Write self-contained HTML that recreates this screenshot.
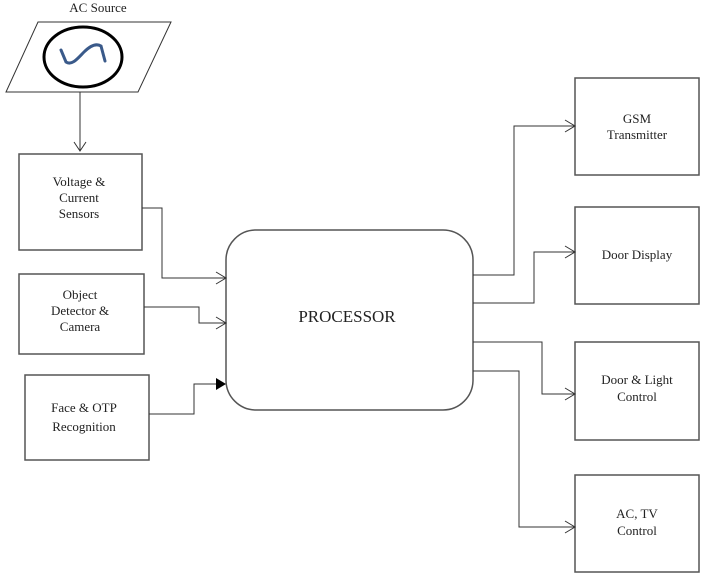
<!DOCTYPE html>
<html><head><style>body{margin:0;background:#fff}svg text{font-family:"Liberation Serif",serif;fill:#222}</style></head><body>
<svg width="705" height="577" viewBox="0 0 705 577" xmlns="http://www.w3.org/2000/svg">
<g fill="none" stroke="#333" stroke-width="1">
<polygon points="38,22 171,22 138,92 6,92"/>
<path d="M80,92 V151 M74,142 L80,151 L86,142"/>
<rect x="19" y="154" width="123" height="96" stroke="#555" stroke-width="1.5"/>
<rect x="19" y="274" width="125" height="80" stroke="#555" stroke-width="1.5"/>
<rect x="25" y="375" width="124" height="85" stroke="#555" stroke-width="1.5"/>
<rect x="226" y="230" width="247" height="180" rx="30" stroke="#555" stroke-width="1.5"/>
<rect x="575" y="78" width="124" height="97" stroke="#555" stroke-width="1.5"/>
<rect x="575" y="207" width="124" height="97" stroke="#555" stroke-width="1.5"/>
<rect x="575" y="342" width="124" height="98" stroke="#555" stroke-width="1.5"/>
<rect x="575" y="475" width="124" height="97" stroke="#555" stroke-width="1.5"/>
<path d="M142,208 H162 V278 H226 M216,272 L226,278 L216,284"/>
<path d="M144,307 H199 V323 H226 M216,317 L226,323 L216,329"/>
<path d="M149,414 H194 V384 H216"/>
<path d="M473,275 H514 V126 H575 M565,120 L575,126 L565,132"/>
<path d="M473,303 H534 V252 H575 M565,246 L575,252 L565,258"/>
<path d="M473,342 H542 V394 H575 M565,388 L575,394 L565,400"/>
<path d="M473,371 H519 V527 H575 M565,521 L575,527 L565,533"/>
</g>
<polygon points="216,378 226,384 216,390" fill="#000"/>
<ellipse cx="83" cy="57" rx="39" ry="30" fill="none" stroke="#000" stroke-width="3"/>
<path d="M61,50 L66,62 C72,66 78,58 84,52 C90,46 96,43 101,46 L105,61" fill="none" stroke="#3a5a8a" stroke-width="3" stroke-linecap="round"/>
<g font-size="13" text-anchor="middle">
<text x="98" y="12">AC Source</text>
<text x="79" y="186">Voltage &amp;</text><text x="79" y="202">Current</text><text x="79" y="218">Sensors</text>
<text x="80" y="299">Object</text><text x="80" y="315">Detector &amp;</text><text x="80" y="331">Camera</text>
<text x="84" y="412">Face &amp; OTP</text><text x="84" y="431">Recognition</text>
<text x="637" y="123">GSM</text><text x="637" y="139">Transmitter</text>
<text x="637" y="259">Door Display</text>
<text x="637" y="384">Door &amp; Light</text><text x="637" y="401">Control</text>
<text x="637" y="518">AC, TV</text><text x="637" y="535">Control</text>
</g>
<text x="347" y="322" font-size="17" text-anchor="middle">PROCESSOR</text>
</svg>
</body></html>
